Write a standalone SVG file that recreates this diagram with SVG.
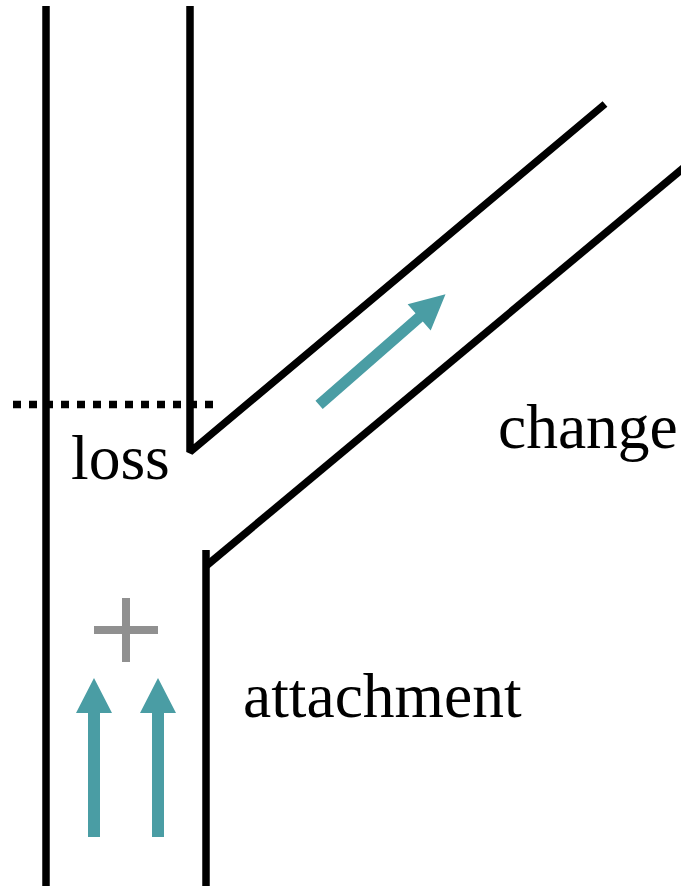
<svg xmlns="http://www.w3.org/2000/svg" width="681" height="886" viewBox="0 0 681 886">
  <style>
    .wall { fill: none; stroke: #000; stroke-width: 7.5; stroke-linecap: butt; stroke-linejoin: bevel; }
    .dot { fill: none; stroke: #000; stroke-width: 7.5; stroke-dasharray: 8 8; }
    .flow { fill: #4A9DA4; }
    .plus { fill: none; stroke: #909090; stroke-width: 8; }
    .lbl { font-family: "Liberation Serif", "Times New Roman", serif; font-size: 63.5px; fill: #000; }
  </style>
  <rect width="681" height="886" fill="#fff"/>
  <g id="walls">
    <line class="wall" x1="46" y1="6" x2="46" y2="886"/>
    <polyline class="wall" points="190,6 190,452 605,104"/>
    <line class="wall" x1="206" y1="550" x2="206" y2="886"/>
    <line class="wall" x1="206" y1="566" x2="690" y2="162.5"/>
  </g>
  <g id="threshold">
    <line class="dot" x1="13" y1="404.5" x2="216" y2="404.5"/>
  </g>
  <g id="arrows">
    <polygon class="flow" points="0,0 18,35 6,35 6,159 -6,159 -6,35 -18,35" transform="translate(94,678)"/>
    <polygon class="flow" points="0,0 18,35 6,35 6,159 -6,159 -6,35 -18,35" transform="translate(158,678)"/>
    <polygon class="flow" points="0,0 17.5,35 5.5,35 5.5,168 -5.5,168 -5.5,35 -17.5,35" transform="translate(445.5,294.3) rotate(48.8)"/>
  </g>
  <g id="plus">
    <line class="plus" x1="126" y1="598" x2="126" y2="662"/>
    <line class="plus" x1="94" y1="630" x2="158" y2="630"/>
  </g>
  <g id="labels">
    <text class="lbl" x="71" y="479">loss</text>
    <text class="lbl" x="498" y="448">change</text>
    <text class="lbl" x="243" y="717">attachment</text>
  </g>
</svg>
